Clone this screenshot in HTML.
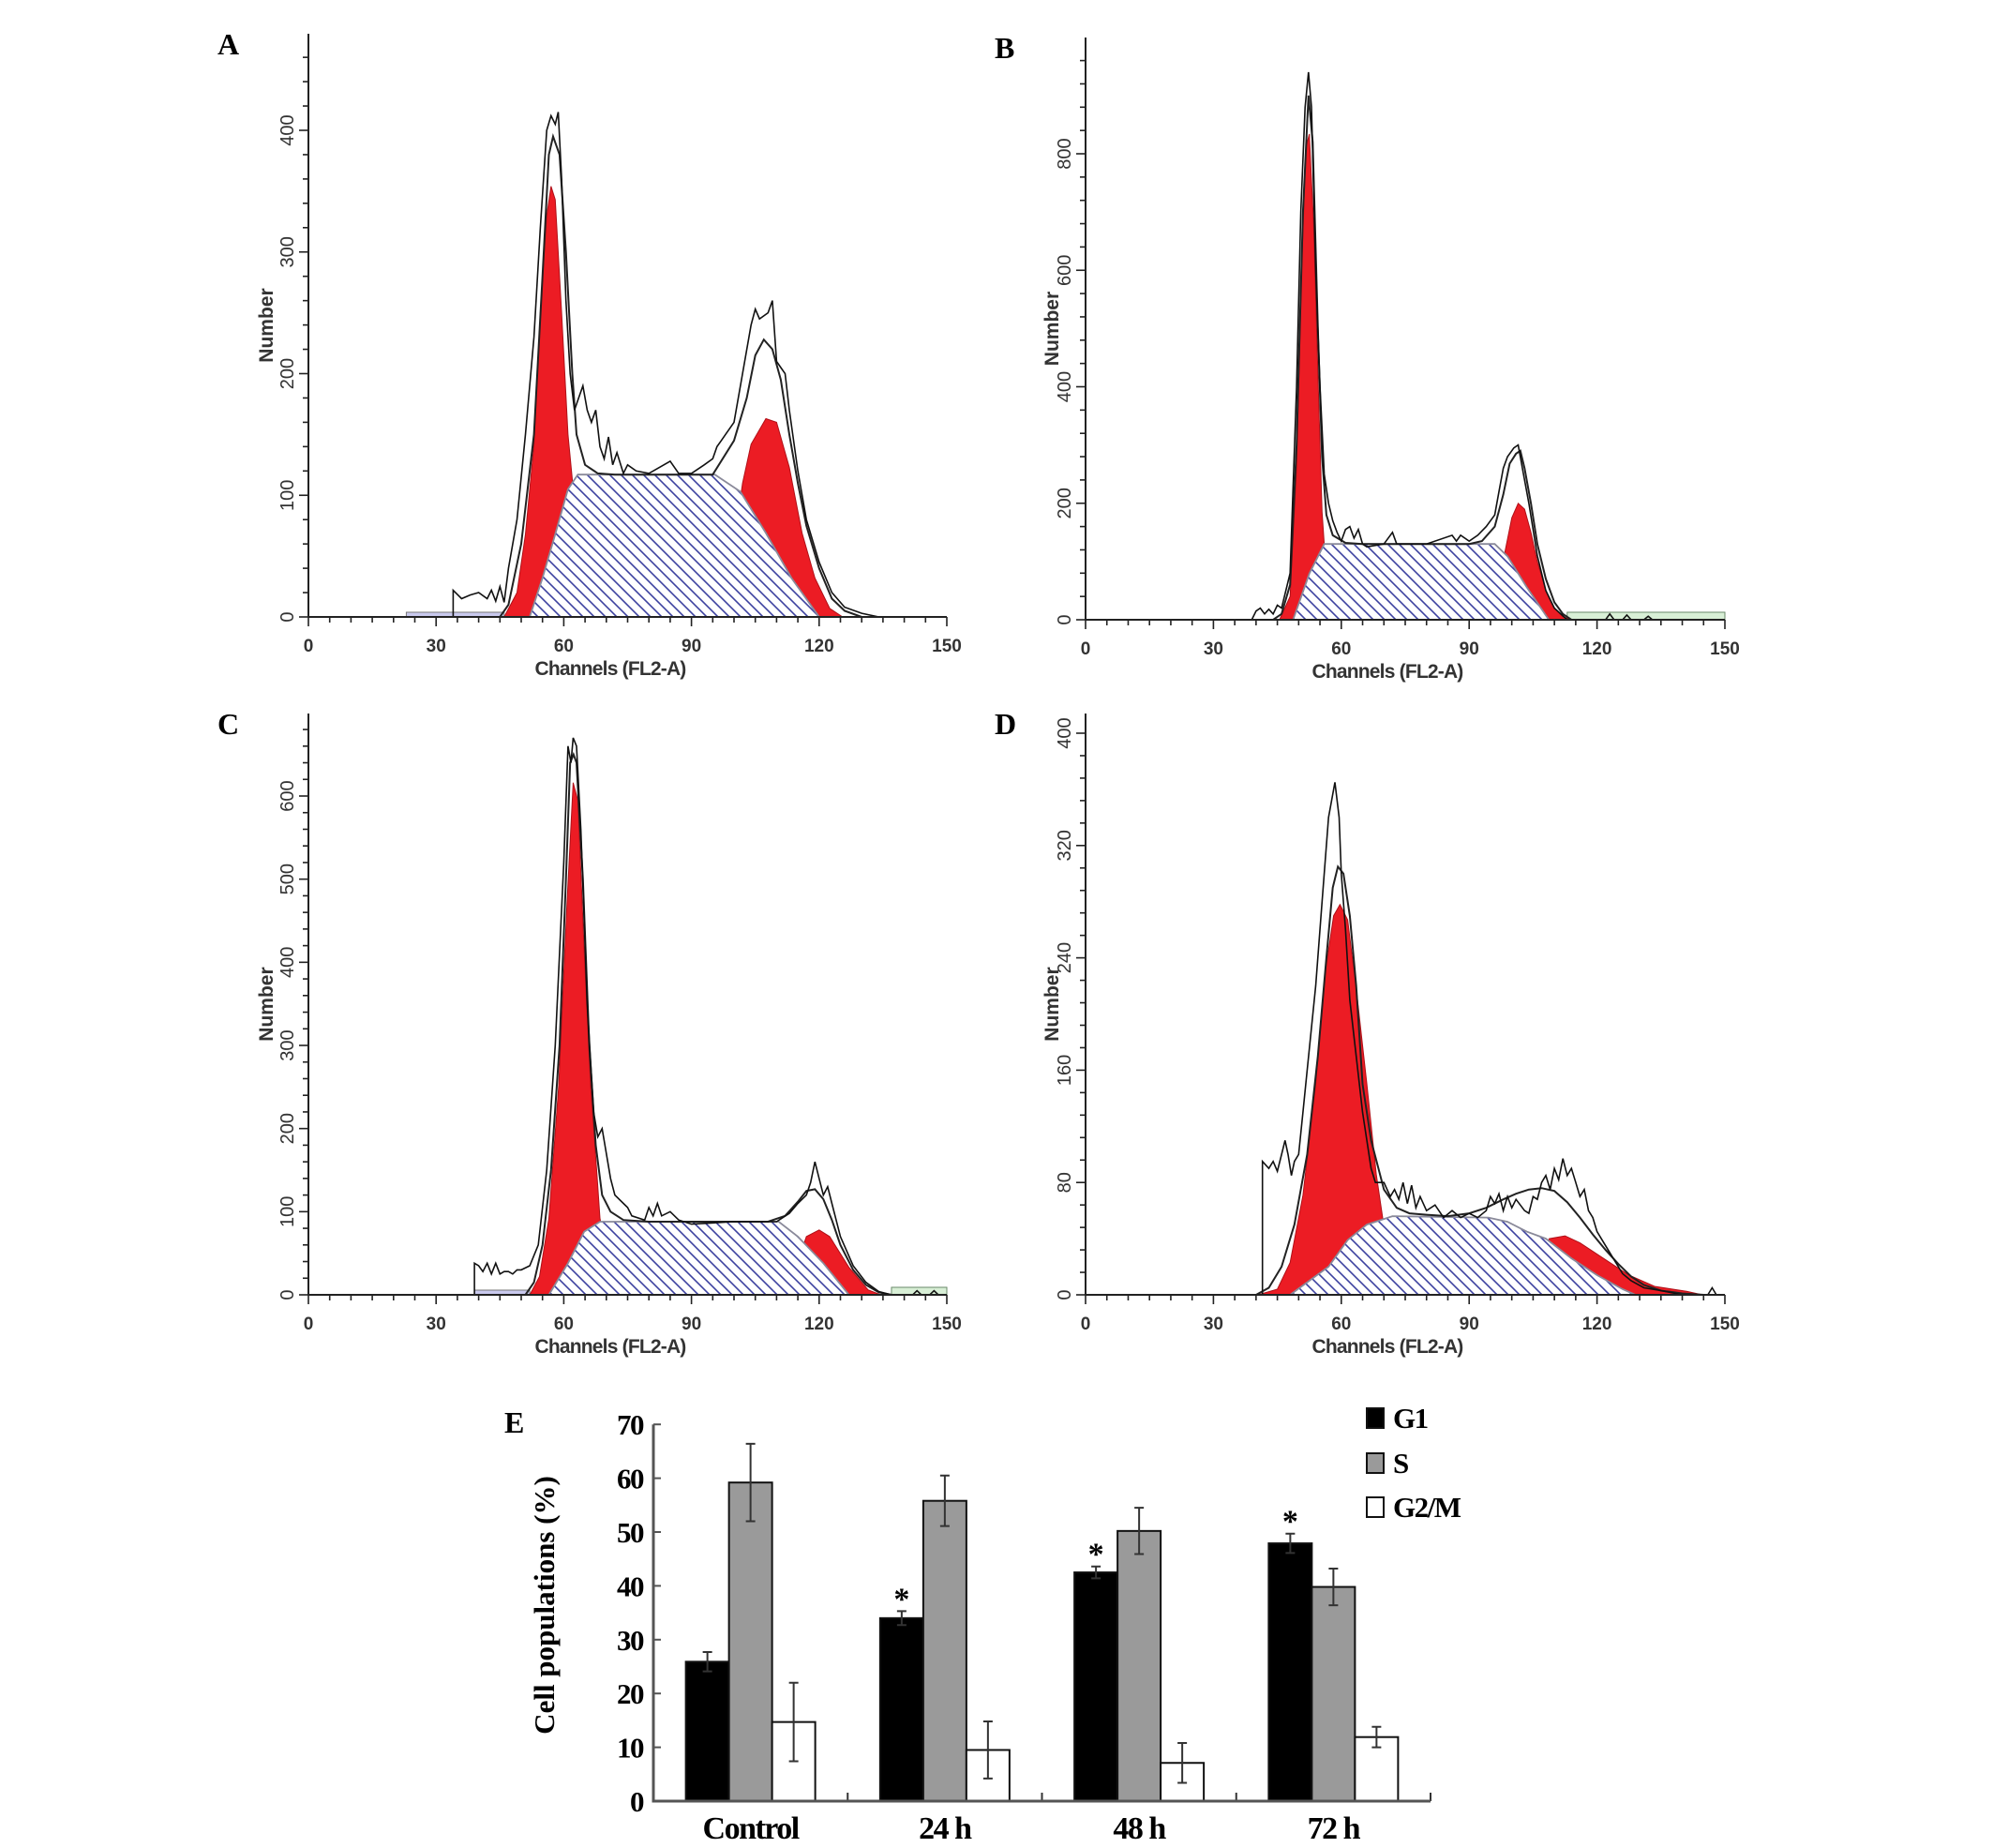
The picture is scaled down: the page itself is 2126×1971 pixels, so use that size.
<!DOCTYPE html>
<html><head><meta charset="utf-8"><title>Cell cycle histograms</title>
<style>
html,body{margin:0;padding:0;background:#fff;}
svg{display:block;}
.hl{font-family:"Liberation Sans",sans-serif;fill:#333;}
.sf{font-family:"Liberation Serif",serif;font-weight:bold;fill:#000;}
</style></head>
<body>
<svg id="fig" xmlns="http://www.w3.org/2000/svg" width="2126" height="1971" viewBox="0 0 2126 1971">
<defs>
<pattern id="hatch" patternUnits="userSpaceOnUse" width="12" height="12">
<rect width="12" height="12" fill="#fff"/>
<path d="M-3,-3 L15,15 M-3,9 L3,15 M9,-3 L15,3" stroke="#3d42a0" stroke-width="1.6"/>
</pattern>
</defs>
<g id="hists"></g>
<g id="bars"></g>
</svg>
<script>
// ---------- Histogram data (channel, count pairs) ----------
const g1A=[46,0,49,20,51,68,53,142,54.5,250,56,330,57,354,58,343,59.5,250,61,150,62,113,63.5,60,65,20,67,0];
const sA=[52,0,55,32,58,68,61,105,63.3,117,95.5,117,101.5,103,107.5,69,113.5,32,120,0];
const g2A=[97,0,100,60,102,110,104,142,107.5,163,110,160,113,123,116,69,119,32,122.5,7,125.5,0];
const fitA=[45,0,47,10,50,60,53,150,55,280,56.5,380,57.5,395,59,380,60.5,300,62,200,63,150,65,125,68,118,72,117,95,117,100,145,103,180,105,215,107,228,109,220,111,195,113,150,115,110,117,75,120,40,123,15,126,5,130,0];
const rawA=[34,0,34,22,36,15,38,18,40,20,42,15,43,22,44,13,45,25,46,12,47,40,49,80,51,150,53,230,54.5,320,56,400,57,412,58,405,58.7,415,59.5,360,60.5,260,61.5,200,62.5,170,63.5,180,64.5,190,65.5,170,66.5,160,67.5,170,68.5,140,69.5,130,70.5,148,71.5,125,72.5,135,74,118,75,125,77,120,80,118,85,128,87,118,90,118,93,125,95,130,96,140,97,145,98,150,100,160,102,200,104,240,105,253,106,245,108,250,109,260,110,210,111,205,112,200,113,170,115,120,117,80,120,45,123,20,126,8,130,3,134,0];

const g1B=[45.5,0,48,40,49.5,262,50.7,605,51.7,811,52.5,834,53.5,682,54.7,376,55.5,185,56,130,57,80,59,20,61,0];
const sB=[48.7,0,52.5,79,56,130,96,130,99,109,103.5,56,108.7,0];
const g2B=[95,0,97,60,98.5,120,100,175,101.5,200,103,190,104.5,150,106,100,108,50,110,20,112,5,114,0];
const fitB=[44,0,46,10,48,60,49.5,300,51,700,52.3,900,53.3,820,54.5,500,55.5,280,56.5,180,58,145,61,132,65,130,90,130,93,135,96,160,98,215,99.5,268,101,285,102,290,103,260,104.5,200,106,130,108,70,110,30,112,10,114,0];
const rawB=[39,0,40,15,41,20,42,10,43,18,44,10,45,25,46,20,48,80,49.5,400,50.5,700,51.5,880,52.3,940,53,880,54,600,55,400,56,250,57,200,58,170,59,150,60,135,61,155,62,160,63,140,64,155,65,130,66,125,70,130,72,150,73,130,80,130,86,145,87,135,88,145,90,135,92,145,94,160,96,180,97,220,98,260,99,280,100.5,295,101.5,300,102.5,260,104,200,106,110,108,50,110,20,113,0,122,0,123,10,124,0,126,0,127,8,128,0,131,0,132,6,133,0];

const g1C=[52,0,54.3,22,56.5,92,58.8,252,60.7,466,62.2,616,63.3,595,64.8,413,66.3,252,67.8,145,68.5,92,70,50,72,15,74,0];
const sC=[56.5,0,61,38,64.8,76,68.5,88,110.5,88,115,70,121,38,127,0];
const g2C=[113,0,115,40,117,70,120,78,122.5,70,127,33,131.5,6,134.5,0];
const fitC=[51,0,53,15,55,60,57,150,59,300,60.5,500,61.5,640,62.3,650,63,640,64.5,500,66,300,67.5,180,69,120,71,100,74,90,80,88,108,88,112,95,115,112,117,125,119,127,121,115,123,90,125,60,128,30,131,12,134,3,137,0];
const rawC=[39,0,39,38,40,35,41,28,42,38,43,25,44,38,45,25,46,28,47,28,48,25,49,30,50,30,52,35,54,60,56,150,58,300,60,520,61,660,61.7,640,62.2,670,63,660,64,560,65.5,350,67,220,68,190,69,200,70,170,71,140,72,120,74,110,75,105,76,95,79,90,80,105,81,95,82,110,83,95,85,100,87,90,90,85,100,88,110,88,113,98,115,110,117,120,118,135,119,160,120,140,121,120,122,130,123,110,125,70,128,35,131,15,134,4,137,0,142,0,143,5,144,0,146,0,147,5,148,0];

const g1D=[40.5,0,45,4,48,23,51,71,54,150,56.2,229,58.2,270,59.7,278,61.5,267,63.7,213,66,150,68.2,86,69.7,55,72,30,75,10,78,0];
const sD=[48,0,52.5,10,57,20,61.5,39,66,50,72,56,94.5,55,99,52,103.5,45,108,40,114,26,120,14,126,4,129,0];
const g2D=[104,0,106,25,108.8,40,112.5,42,116,37,121.5,26,127.5,14,133.5,6,141,2.5,144.7,0];
const fitD=[40,0,43,5,46,20,49,50,52,100,54.5,170,56.5,240,58,290,59.2,305,60.5,300,62,270,63.5,220,65,150,67,110,70,75,73,62,76,58,80,57,85,56,90,58,94,62,98,68,101,72,104,75,107,76,110,74,113,66,116,55,119,43,122,32,125,22,128,13,131,7,135,3,140,1,145,0];
const rawD=[39.5,0,41.5,0,41.5,95,43,90,44,95,45,88,46,100,46.8,110,47.5,100,48.3,85,49,95,50,100,51,130,52,160,54,220,55.5,280,57,340,58.5,365,59.5,340,60,300,61,260,62,210,63.5,170,65,130,67,90,68,80,70,80,71.5,70,72.5,75,73.5,68,74.5,80,75.5,65,76.5,78,77.5,62,78.5,70,80,60,82,64,84,55,86,60,88,55,90,58,92,55,94,60,95,70,96,65,97,72,98,60,99,70,100,62,101,68,103,60,104,58,105,70,106,68,107,80,108,85,109,75,110,90,111,82,112,97,113,85,114,90,115,80,116,70,117,75,118,60,119,55,120,45,122,35,124,25,126,15,128,10,131,5,135,3,140,0,146,0,147,5,148,0];

// baseline strips [chStart, chEnd]
const stripLavA=[23,46];
const stripGreenB=[113,150];
const stripLavC=[39,52];
const stripGreenC=[137,150];

// tick label arrays
const xTickLabels=[0,30,60,90,120,150];
const yTicksA=[0,100,200,300,400];
const yTicksB=[0,200,400,600,800];
const yTicksC=[0,100,200,300,400,500,600];
const yTicksD=[0,80,160,240,320,400];

// ---------- Bar chart data ----------
const categories=["Control","24 h","48 h","72 h"];
const seriesNames=["G1","S","G2/M"];
const g1Values=[25.9,34.0,42.5,47.9];
const sValues=[59.2,55.8,50.2,39.8];
const g2mValues=[14.7,9.5,7.1,11.9];
const g1Err=[1.8,1.3,1.1,1.8];
const sErr=[7.2,4.7,4.3,3.4];
const g2mErr=[7.3,5.3,3.7,1.9];
const significant=[false,true,true,true];
const eTicks=[0,10,20,30,40,50,60,70];

const NS="http://www.w3.org/2000/svg";
function mk(tag,attrs,parent){const e=document.createElementNS(NS,tag);for(const k in attrs)e.setAttribute(k,attrs[k]);if(parent)parent.appendChild(e);return e;}

const panels=[
 {id:"a",label:"A",x0:329,x1:1010,y0:658,top:36,ppu:519/400,ticks:yTicksA,numOff:46,g1:g1A,s:sA,g2:g2A,fit:fitA,raw:rawA,lav:[stripLavA],green:[]},
 {id:"b",label:"B",x0:1158,x1:1840,y0:661,top:40,ppu:497/800,ticks:yTicksB,numOff:37,g1:g1B,s:sB,g2:g2B,fit:fitB,raw:rawB,lav:[],green:[stripGreenB]},
 {id:"c",label:"C",x0:329,x1:1010,y0:1381,top:761,ppu:532/600,ticks:yTicksC,numOff:46,g1:g1C,s:sC,g2:g2C,fit:fitC,raw:rawC,lav:[stripLavC],green:[stripGreenC]},
 {id:"d",label:"D",x0:1158,x1:1840,y0:1381,top:761,ppu:599/400,ticks:yTicksD,numOff:37,g1:g1D,s:sD,g2:g2D,fit:fitD,raw:rawD,lav:[],green:[]}
];
const hroot=document.getElementById("hists");

panels.forEach(p=>{
 const sx=ch=>p.x0+ch*(p.x1-p.x0)/150;
 const sy=v=>p.y0-v*p.ppu;
 const pts=arr=>{let s=[];for(let i=0;i<arr.length;i+=2)s.push(sx(arr[i]).toFixed(1)+","+sy(arr[i+1]).toFixed(1));return s.join(" ");};
 const g=mk("g",{},hroot);
 
 

 const lab=mk("text",{x:p.x0-97,y:p.y0-p.ppu*0+0,"class":"sf","font-size":32},g);
 lab.setAttribute("y",p.top+22);
 lab.textContent=p.label;
 
 

 p.lav.forEach(r=>{const el=mk("rect",{x:sx(r[0]),y:p.y0-5,width:sx(r[1])-sx(r[0]),height:5,fill:"#c9c9ee",stroke:"#777","stroke-width":1},g);
  
  });
 p.green.forEach(r=>{const el=mk("rect",{x:sx(r[0]),y:p.y0-8,width:sx(r[1])-sx(r[0]),height:8,fill:"#d8efd6",stroke:"#6a8a6a","stroke-width":1},g);
  
  });

 const r1=mk("polygon",{points:pts(p.g1),fill:"#ec1c24",stroke:"#b01018","stroke-width":1},g);
 
 
 const r2=mk("polygon",{points:pts(p.g2),fill:"#ec1c24",stroke:"#b01018","stroke-width":1},g);
 
 
 const sh=mk("polygon",{points:pts(p.s),fill:"url(#hatch)",stroke:"#8a8a9a","stroke-width":1.8},g);
 
 
 const fl=mk("polyline",{points:pts(p.fit),fill:"none",stroke:"#222","stroke-width":2},g);
 
 
 const rl=mk("polyline",{points:pts(p.raw),fill:"none",stroke:"#111","stroke-width":1.6},g);
 
 

 // axes
 const ax=mk("g",{},g);
 
 
 mk("line",{x1:p.x0,y1:p.y0,x2:p.x1,y2:p.y0,stroke:"#222","stroke-width":2},ax);
 mk("line",{x1:p.x0,y1:p.y0,x2:p.x0,y2:p.top,stroke:"#222","stroke-width":2},ax);
 for(let c=0;c<=150;c+=5){const L=(c%30===0)?10:6;mk("line",{x1:sx(c),y1:p.y0,x2:sx(c),y2:p.y0+L,stroke:"#222","stroke-width":1.6},ax);}
 const step=p.ticks[1]/5;
 for(let v=0;sy(v)>=p.top;v+=step){const major=Math.abs((v/p.ticks[1])-Math.round(v/p.ticks[1]))<1e-6;mk("line",{x1:p.x0-(major?10:6),y1:sy(v),x2:p.x0,y2:sy(v),stroke:"#222","stroke-width":1.6},ax);}
 xTickLabels.forEach(t=>{const e=mk("text",{x:sx(t),y:p.y0+37,"text-anchor":"middle","class":"hl","font-size":19,"font-weight":"bold"},ax);e.textContent=t;
  
  });
 p.ticks.forEach(t=>{const X=p.x0-16,Y=sy(t);const e=mk("text",{x:X,y:Y,transform:"rotate(-90 "+X+" "+Y+")","text-anchor":"middle","class":"hl","font-size":20},ax);e.textContent=t;
  
  });
 const xt=mk("text",{x:p.x0+322,y:p.y0+62,"text-anchor":"middle","class":"hl","font-size":21,"font-weight":"bold","letter-spacing":"-0.8"},ax);
 xt.textContent="Channels (FL2-A)";
 
 
 const NX=p.x0-p.numOff+8,NY=(p.y0+p.top)/2;
 const yt=mk("text",{x:NX,y:NY,transform:"rotate(-90 "+NX+" "+NY+")","text-anchor":"middle","class":"hl","font-size":21,"font-weight":"bold"},ax);
 yt.textContent="Number";
 
 
});

// ---------- Bar chart E ----------
const E={x0:697,x1:1526,y0:1921,ppu:5.74,barW:46};
const broot=document.getElementById("bars");
const ey=v=>E.y0-v*E.ppu;
const groupW=(E.x1-E.x0)/categories.length;
const gx=i=>E.x0+groupW*i+groupW/2;
const fills=["#000","#9a9a9a","#fff"];
const vals=[g1Values,sValues,g2mValues];
const errs=[g1Err,sErr,g2mErr];

const eL=mk("text",{x:538,y:1528,"class":"sf","font-size":32},broot);
eL.textContent="E";



categories.forEach((cat,i)=>{
 for(let s=0;s<3;s++){
  const v=vals[s][i],er=errs[s][i];
  const bx=gx(i)+(s-1.5)*E.barW;
  const r=mk("rect",{x:bx,y:ey(v),width:E.barW,height:E.y0-ey(v),fill:fills[s],stroke:"#111","stroke-width":2},broot);
  
  
  const cx=bx+E.barW/2;
  const eb=mk("path",{d:"M"+cx+","+ey(v-er)+"V"+ey(v+er)+"M"+(cx-5)+","+ey(v-er)+"H"+(cx+5)+"M"+(cx-5)+","+ey(v+er)+"H"+(cx+5),stroke:"#333","stroke-width":2,fill:"none"},broot);
  
  
  if(s===0&&significant[i]){
   const st=mk("text",{x:cx,y:ey(v+er)-2,"text-anchor":"middle","class":"sf","font-size":34},broot);
   st.textContent="*";
   
   
  }
 }
 const t=mk("text",{x:gx(i),y:1961,"text-anchor":"middle","class":"sf","font-size":34,"letter-spacing":"-1.5"},broot);
 t.textContent=cat;
 
 
 if(i>0){mk("line",{x1:E.x0+groupW*i,y1:E.y0,x2:E.x0+groupW*i,y2:E.y0-9,stroke:"#333","stroke-width":2},broot);}
});
mk("line",{x1:E.x1,y1:E.y0,x2:E.x1,y2:E.y0-9,stroke:"#333","stroke-width":2},broot);
const axE=mk("path",{d:"M"+E.x0+","+ey(70)+"V"+E.y0+"H"+E.x1,stroke:"#555","stroke-width":3,fill:"none"},broot);


eTicks.forEach(t=>{
 mk("line",{x1:E.x0,y1:ey(t),x2:E.x0+8,y2:ey(t),stroke:"#555","stroke-width":2},broot);
 const l=mk("text",{x:686,y:ey(t)+11,"text-anchor":"end","class":"sf","font-size":31,"letter-spacing":"-1.5"},broot);
 l.textContent=t;
 
 
});
const ytE=mk("text",{x:591,y:1712,transform:"rotate(-90 591 1712)","text-anchor":"middle","class":"sf","font-size":31},broot);
ytE.textContent="Cell populations (%)";



const legY=[1512,1560,1607];
seriesNames.forEach((n,i)=>{
 const g=mk("g",{},broot);
 
 
 mk("rect",{x:1458,y:legY[i]-10,width:18,height:21,fill:fills[i],stroke:"#111","stroke-width":2},g);
 const t=mk("text",{x:1486,y:legY[i]+11,"class":"sf","font-size":31,"letter-spacing":"-1.5"},g);
 t.textContent=n;
});
</script>
</body></html>
